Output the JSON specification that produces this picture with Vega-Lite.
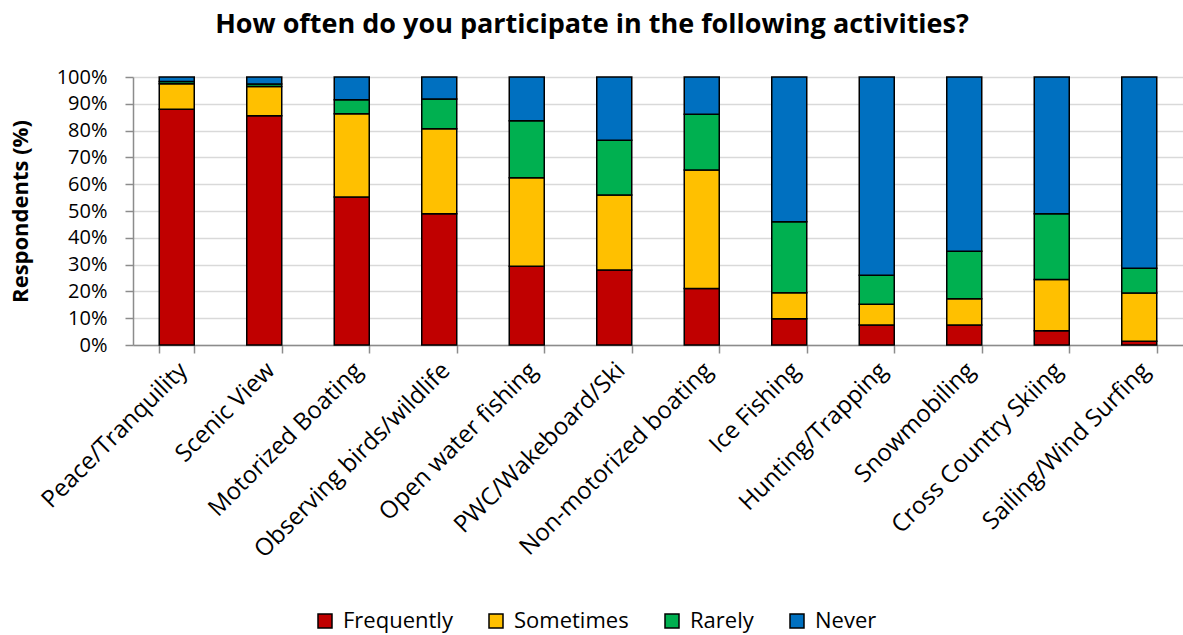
{
  "$schema": "https://vega.github.io/schema/vega-lite/v6.json",
  "width": 1050,
  "height": 268,
  "autosize": {"type": "none"},
  "padding": {"left": 133, "top": 77, "right": 0, "bottom": 290},
  "background": "white",
  "config": {"font": "Open Sans", "view": {"stroke": null}},
  "title": {"text": "How often do you participate in the following activities?", "fontSize": 27, "fontWeight": "bold", "font": "Open Sans", "color": "black", "anchor": "middle", "dx": -66, "offset": 28},
  "data": {"values": [
    {"activity": "Peace/Tranquility", "level": "Frequently", "seq": 1, "pct": 88},
    {"activity": "Peace/Tranquility", "level": "Sometimes", "seq": 2, "pct": 9.5},
    {"activity": "Peace/Tranquility", "level": "Rarely", "seq": 3, "pct": 0.8},
    {"activity": "Peace/Tranquility", "level": "Never", "seq": 4, "pct": 1.7},
    {"activity": "Scenic View", "level": "Frequently", "seq": 1, "pct": 85.5},
    {"activity": "Scenic View", "level": "Sometimes", "seq": 2, "pct": 11},
    {"activity": "Scenic View", "level": "Rarely", "seq": 3, "pct": 0.9},
    {"activity": "Scenic View", "level": "Never", "seq": 4, "pct": 2.6},
    {"activity": "Motorized Boating", "level": "Frequently", "seq": 1, "pct": 55.2},
    {"activity": "Motorized Boating", "level": "Sometimes", "seq": 2, "pct": 31.1},
    {"activity": "Motorized Boating", "level": "Rarely", "seq": 3, "pct": 5.2},
    {"activity": "Motorized Boating", "level": "Never", "seq": 4, "pct": 8.5},
    {"activity": "Observing birds/wildlife", "level": "Frequently", "seq": 1, "pct": 49},
    {"activity": "Observing birds/wildlife", "level": "Sometimes", "seq": 2, "pct": 31.7},
    {"activity": "Observing birds/wildlife", "level": "Rarely", "seq": 3, "pct": 11.1},
    {"activity": "Observing birds/wildlife", "level": "Never", "seq": 4, "pct": 8.2},
    {"activity": "Open water fishing", "level": "Frequently", "seq": 1, "pct": 29.4},
    {"activity": "Open water fishing", "level": "Sometimes", "seq": 2, "pct": 33},
    {"activity": "Open water fishing", "level": "Rarely", "seq": 3, "pct": 21.3},
    {"activity": "Open water fishing", "level": "Never", "seq": 4, "pct": 16.3},
    {"activity": "PWC/Wakeboard/Ski", "level": "Frequently", "seq": 1, "pct": 28},
    {"activity": "PWC/Wakeboard/Ski", "level": "Sometimes", "seq": 2, "pct": 28},
    {"activity": "PWC/Wakeboard/Ski", "level": "Rarely", "seq": 3, "pct": 20.4},
    {"activity": "PWC/Wakeboard/Ski", "level": "Never", "seq": 4, "pct": 23.6},
    {"activity": "Non-motorized boating", "level": "Frequently", "seq": 1, "pct": 21.1},
    {"activity": "Non-motorized boating", "level": "Sometimes", "seq": 2, "pct": 44.2},
    {"activity": "Non-motorized boating", "level": "Rarely", "seq": 3, "pct": 20.8},
    {"activity": "Non-motorized boating", "level": "Never", "seq": 4, "pct": 13.9},
    {"activity": "Ice Fishing", "level": "Frequently", "seq": 1, "pct": 9.8},
    {"activity": "Ice Fishing", "level": "Sometimes", "seq": 2, "pct": 9.7},
    {"activity": "Ice Fishing", "level": "Rarely", "seq": 3, "pct": 26.5},
    {"activity": "Ice Fishing", "level": "Never", "seq": 4, "pct": 54},
    {"activity": "Hunting/Trapping", "level": "Frequently", "seq": 1, "pct": 7.5},
    {"activity": "Hunting/Trapping", "level": "Sometimes", "seq": 2, "pct": 7.7},
    {"activity": "Hunting/Trapping", "level": "Rarely", "seq": 3, "pct": 10.8},
    {"activity": "Hunting/Trapping", "level": "Never", "seq": 4, "pct": 74},
    {"activity": "Snowmobiling", "level": "Frequently", "seq": 1, "pct": 7.5},
    {"activity": "Snowmobiling", "level": "Sometimes", "seq": 2, "pct": 9.8},
    {"activity": "Snowmobiling", "level": "Rarely", "seq": 3, "pct": 17.7},
    {"activity": "Snowmobiling", "level": "Never", "seq": 4, "pct": 65},
    {"activity": "Cross Country Skiing", "level": "Frequently", "seq": 1, "pct": 5.3},
    {"activity": "Cross Country Skiing", "level": "Sometimes", "seq": 2, "pct": 19.1},
    {"activity": "Cross Country Skiing", "level": "Rarely", "seq": 3, "pct": 24.6},
    {"activity": "Cross Country Skiing", "level": "Never", "seq": 4, "pct": 51},
    {"activity": "Sailing/Wind Surfing", "level": "Frequently", "seq": 1, "pct": 1.4},
    {"activity": "Sailing/Wind Surfing", "level": "Sometimes", "seq": 2, "pct": 18},
    {"activity": "Sailing/Wind Surfing", "level": "Rarely", "seq": 3, "pct": 9.2},
    {"activity": "Sailing/Wind Surfing", "level": "Never", "seq": 4, "pct": 71.4}
  ]},
  "mark": {"type": "bar", "stroke": "black", "strokeWidth": 1.5},
  "encoding": {
    "x": {
      "field": "activity", "type": "nominal", "sort": null,
      "scale": {"paddingInner": 0.6, "paddingOuter": 0.3},
      "axis": {"title": null, "labelAngle": -45, "labelAlign": "right", "labelBaseline": "top", "labelFontSize": 24, "labelColor": "black", "labelFont": "Open Sans",
        "labelLimit": 0, "labelOffset": -2, "labelPadding": 5,
        "domainColor": "#8c8c8c", "domainWidth": 1.5, "tickColor": "#8c8c8c", "tickWidth": 1.5, "tickSize": 8,
        "tickBand": "extent", "grid": false}
    },
    "y": {
      "field": "pct", "type": "quantitative", "stack": "normalize",
      "scale": {"domain": [0, 1]},
      "axis": {"title": "Respondents (%)", "titleFontSize": 22, "titleFontWeight": "bold", "titleColor": "black", "titleFont": "Open Sans",
        "titleX": -113, "titleY": 134, "titleAngle": -90, "titleAlign": "center", "titleBaseline": "middle",
        "format": ".0%", "values": [0, 0.1, 0.2, 0.3, 0.4, 0.5, 0.6, 0.7, 0.8, 0.9, 1],
        "labelFontSize": 20, "labelColor": "black", "labelFont": "Open Sans", "labelPadding": 18,
        "domainColor": "#8c8c8c", "domainWidth": 1.5, "tickColor": "#8c8c8c", "tickWidth": 1.5, "tickSize": 8,
        "grid": true, "gridColor": "#d9d9d9", "gridWidth": 1.5}
    },
    "color": {
      "field": "level", "type": "nominal",
      "scale": {"domain": ["Frequently", "Sometimes", "Rarely", "Never"], "range": ["#C00000", "#FFC000", "#00B050", "#0070C0"]},
      "legend": {"title": null, "orient": "none", "legendX": 181, "legendY": 533, "direction": "horizontal",
        "symbolType": "square", "symbolSize": 196, "symbolStrokeColor": "black", "symbolStrokeWidth": 1.5, "symbolOpacity": 1,
        "labelFontSize": 22, "labelColor": "black", "labelFont": "Open Sans", "columnPadding": 32, "labelOffset": 7}
    },
    "order": {"field": "seq", "type": "quantitative"}
  }
}
